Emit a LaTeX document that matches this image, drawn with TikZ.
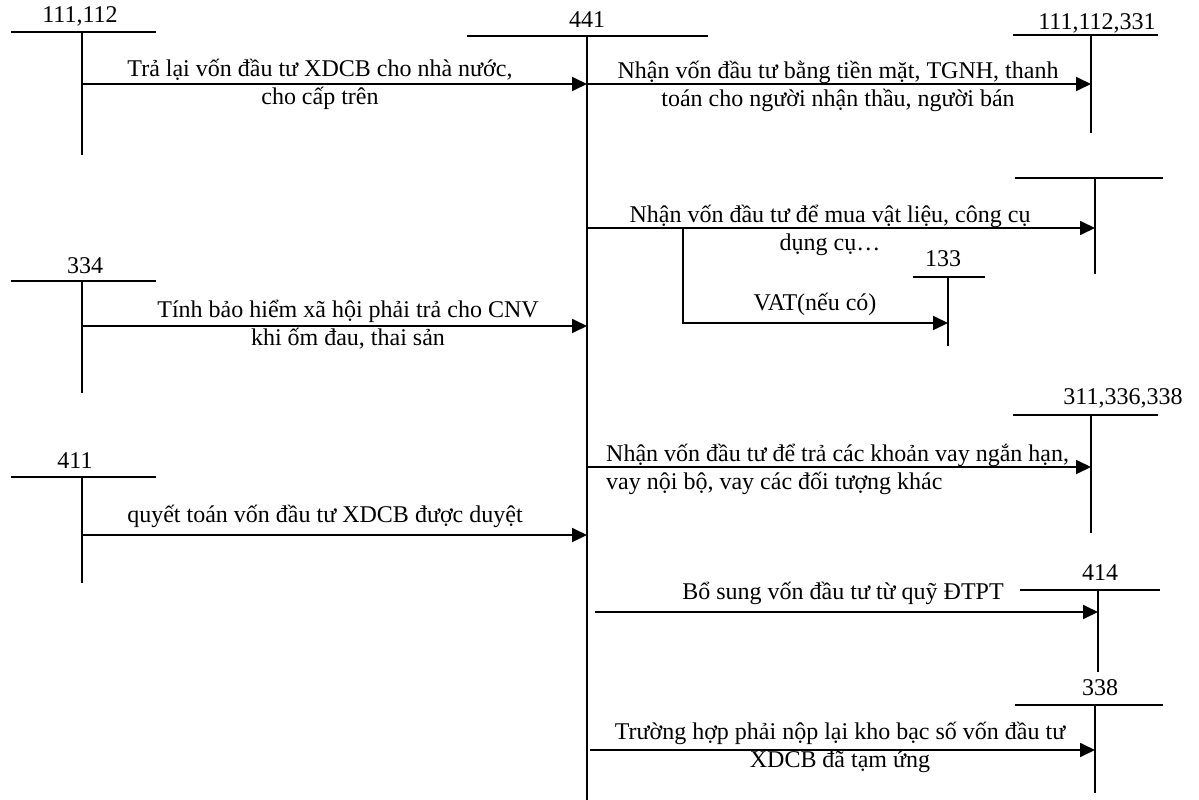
\documentclass[tikz,border=0pt]{standalone}
\usepackage{fontspec}
\setmainfont{Liberation Serif}
\usetikzlibrary{arrows.meta}
\begin{document}
\begin{tikzpicture}[x=1pt,y=-1pt,
  tline/.style={line width=1.4pt},
  arr/.style={line width=1.8pt,-{Triangle[length=15pt,width=14pt]}},
  lbl/.style={font=\fontsize{24}{28}\selectfont,inner sep=0pt,align=center},
  acc/.style={font=\fontsize{24}{28}\selectfont,inner sep=0pt}]
\useasboundingbox (0,0) rectangle (1199,800);
% ---- account T lines
% 111,112
\node[acc] (n111) at (80,16) {111,112};
\coordinate (h111a) at (11,32); \coordinate (h111b) at (156,32);
\coordinate (v111t) at (82,32); \coordinate (v111b) at (82,155);
\draw[tline] (h111a) -- (h111b); \draw[tline] (v111t) -- (v111b);
% 441
\node[acc] (n441) at (587,20) {441};
\coordinate (h441a) at (467,36); \coordinate (h441b) at (708,36);
\coordinate (v441t) at (587,36); \coordinate (v441b) at (587,800);
\draw[tline] (h441a) -- (h441b); \draw[tline] (v441t) -- (v441b);
% 111,112,331
\node[acc] (n331) at (1097,23) {111,112,331};
\coordinate (h331a) at (1013,35); \coordinate (h331b) at (1158,35);
\coordinate (v331t) at (1091,35); \coordinate (v331b) at (1091,133);
\draw[tline] (h331a) -- (h331b); \draw[tline] (v331t) -- (v331b);
% unlabeled
\coordinate (hxa) at (1015,178); \coordinate (hxb) at (1163,178);
\coordinate (vxt) at (1095,178); \coordinate (vxb) at (1095,274);
\draw[tline] (hxa) -- (hxb); \draw[tline] (vxt) -- (vxb);
% 133
\node[acc] (n133) at (943,259) {133};
\coordinate (h133a) at (913,277); \coordinate (h133b) at (985,277);
\coordinate (v133t) at (948,277); \coordinate (v133b) at (948,346);
\draw[tline] (h133a) -- (h133b); \draw[tline] (v133t) -- (v133b);
% 334
\node[acc] (n334) at (85,266) {334};
\coordinate (h334a) at (11,281); \coordinate (h334b) at (156,281);
\coordinate (v334t) at (82,281); \coordinate (v334b) at (82,393);
\draw[tline] (h334a) -- (h334b); \draw[tline] (v334t) -- (v334b);
% 311,336,338
\node[acc] (n311) at (1123,398) {311,336,338};
\coordinate (h311a) at (1013,415); \coordinate (h311b) at (1158,415);
\coordinate (v311t) at (1091,415); \coordinate (v311b) at (1091,533);
\draw[tline] (h311a) -- (h311b); \draw[tline] (v311t) -- (v311b);
% 411
\node[acc] (n411) at (75,461) {411};
\coordinate (h411a) at (11,477); \coordinate (h411b) at (156,477);
\coordinate (v411t) at (82,477); \coordinate (v411b) at (82,583);
\draw[tline] (h411a) -- (h411b); \draw[tline] (v411t) -- (v411b);
% 414
\node[acc] (n414) at (1100,573) {414};
\coordinate (h414a) at (1020,590); \coordinate (h414b) at (1160,590);
\coordinate (v414t) at (1098,590); \coordinate (v414b) at (1098,672);
\draw[tline] (h414a) -- (h414b); \draw[tline] (v414t) -- (v414b);
% 338
\node[acc] (n338) at (1100,688) {338};
\coordinate (h338a) at (1015,705); \coordinate (h338b) at (1163,705);
\coordinate (v338t) at (1095,705); \coordinate (v338b) at (1095,793);
\draw[tline] (h338a) -- (h338b); \draw[tline] (v338t) -- (v338b);
% ---- arrows
\coordinate (a1s) at (82,84); \coordinate (a1e) at (587,84);
\draw[arr] (a1s) -- (a1e);
\node[lbl] (t1) at (320,84) {Trả lại vốn đầu tư XDCB cho nhà nước,\\cho cấp trên};
\coordinate (a2s) at (587,84); \coordinate (a2e) at (1091,84);
\draw[arr] (a2s) -- (a2e);
\node[lbl] (t2) at (838,86) {Nhận vốn đầu tư bằng tiền mặt, TGNH, thanh\\toán cho người nhận thầu, người bán};
\coordinate (a3s) at (587,228); \coordinate (a3e) at (1095,228);
\draw[arr] (a3s) -- (a3e);
\node[lbl] (t3) at (830,230) {Nhận vốn đầu tư để mua vật liệu, công cụ\\dụng cụ…};
\coordinate (b1) at (683,228); \coordinate (b2) at (948,323);
\draw[arr] (b1) |- (b2);
\node[lbl] (t4) at (815,304) {VAT(nếu có)};
\coordinate (a4s) at (82,326); \coordinate (a4e) at (587,326);
\draw[arr] (a4s) -- (a4e);
\node[lbl] (t5) at (348,325) {Tính bảo hiểm xã hội phải trả cho CNV\\khi ốm đau, thai sản};
\coordinate (a5s) at (587,467); \coordinate (a5e) at (1091,467);
\draw[arr] (a5s) -- (a5e);
\node[lbl,align=left,anchor=west] (t6) at (606,469) {Nhận vốn đầu tư để trả các khoản vay ngắn hạn,\\vay nội bộ, vay các đối tượng khác};
\coordinate (a6s) at (82,535); \coordinate (a6e) at (587,535);
\draw[arr] (a6s) -- (a6e);
\node[lbl] (t7) at (325,516) {quyết toán vốn đầu tư XDCB được duyệt};
\coordinate (a7s) at (595,612); \coordinate (a7e) at (1098,612);
\draw[arr] (a7s) -- (a7e);
\node[lbl] (t8) at (843,593) {Bổ sung vốn đầu tư từ quỹ ĐTPT};
\coordinate (a8s) at (590,750); \coordinate (a8e) at (1095,750);
\draw[arr] (a8s) -- (a8e);
\node[lbl] (t9) at (840,747) {Trường hợp phải nộp lại kho bạc số vốn đầu tư\\XDCB đã tạm ứng};
\end{tikzpicture}
\end{document}
